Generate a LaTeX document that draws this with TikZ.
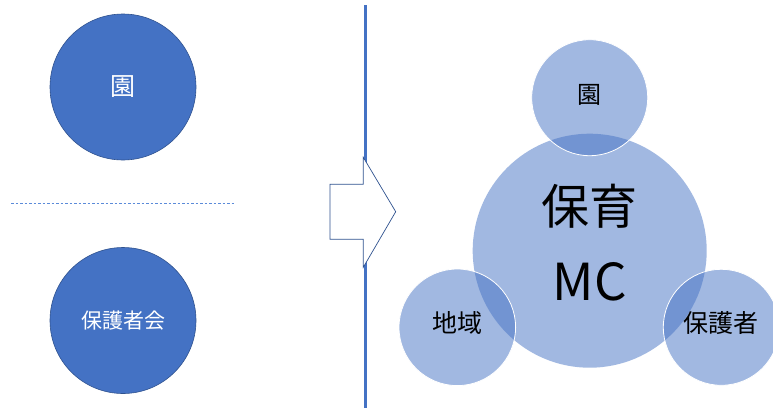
\documentclass[tikz,border=0pt]{standalone}
\usepackage{fontspec}
\setmainfont{Noto Sans CJK JP}
\definecolor{accent}{HTML}{4472C4}
\definecolor{darkedge}{HTML}{2F528F}
\definecolor{dashblue}{HTML}{5B8BD9}
\begin{document}
\begin{tikzpicture}[x=1pt,y=-1pt,
  solidcirc/.style={circle,fill=accent,draw=darkedge,line width=0.6pt,inner sep=0pt,text=white},
  softcirc/.style={circle,fill=accent,fill opacity=0.5,text opacity=1,inner sep=0pt,text=black},
  smallsoft/.style={softcirc,draw=white,draw opacity=1,line width=0.8pt}]
\useasboundingbox (0,0) rectangle (773,408);
\fill[white] (0,0) rectangle (773,408);
% left side
\node[solidcirc,minimum size=146pt] (en) at (123,87) {\fontsize{25}{28}\selectfont 園};
\node[solidcirc,minimum size=146pt] (hogo) at (123,320.5) {\fontsize{21}{24}\selectfont 保護者会};
\coordinate (dl) at (11,203.5);
\coordinate (dr) at (235,203.5);
\draw[dashblue,line width=1pt,dash pattern=on 2.5pt off 2pt] (dl) -- (dr);
% divider
\coordinate (vt) at (365,5);
\coordinate (vb) at (365,408);
\draw[accent,line width=3pt] (vt) -- (vb);
% block arrow
\draw[darkedge,fill=white,line width=0.7pt,line join=miter]
  (330,184.3) -- (363.3,184.3) -- (363.3,157.3) -- (395.7,211.7) -- (363.3,267.3) -- (363.3,239.3) -- (330,239.3) -- cycle;
% right side
\node[softcirc,minimum size=234pt] (mc) at (589.7,250.7) {};
\node[smallsoft,minimum size=116pt] (en2) at (589.7,97.7) {};
\node[smallsoft,minimum size=116.6pt] (chiiki) at (457.3,327.3) {};
\node[smallsoft,minimum size=116pt] (hogosha) at (721.3,327.3) {};
\node[text=black] (t1) at (589.7,206.7) {\fontsize{48}{52}\selectfont 保育};
\node[text=black] (t2) at (589.7,281.7) {\fontsize{51}{55}\selectfont MC};
\node[text=black] (t3) at (589.7,95) {\fontsize{24}{26}\selectfont 園};
\node[text=black] (t4) at (457.3,323) {\fontsize{25}{28}\selectfont 地域};
\node[text=black] (t5) at (721.3,323) {\fontsize{25}{28}\selectfont 保護者};
\end{tikzpicture}
\end{document}
